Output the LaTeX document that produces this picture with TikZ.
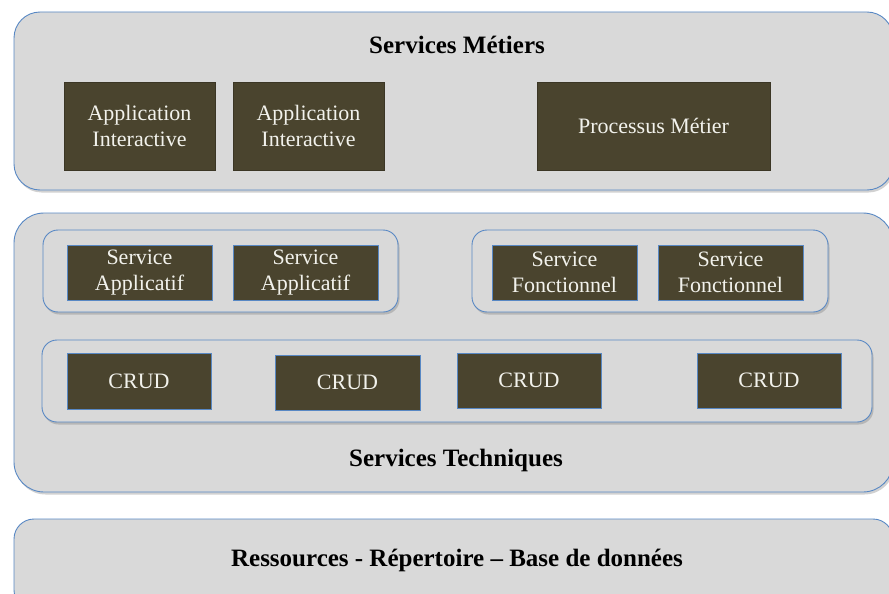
\documentclass[tikz,border=0pt]{standalone}
\usepackage{fontspec}
\setmainfont{Liberation Serif}
\usepackage{xcolor}
\usepackage{tikz}
\usetikzlibrary{shadows}
\definecolor{layerfill}{RGB}{217,217,217}
\definecolor{layerline}{RGB}{88,136,196}
\definecolor{boxfill}{RGB}{74,68,46}
\definecolor{boxtext}{RGB}{242,242,236}

\begin{document}
\begin{tikzpicture}[x=1pt, y=-1pt,
                    layer/.style={rectangle, draw=layerline, line width=0.9pt, fill=layerfill,
                    drop shadow={shadow xshift=1.5pt, shadow yshift=-2.5pt, opacity=.3, fill=black!60}},
                    group/.style={layer, rounded corners=15pt, minimum height=82pt},
                    block/.style={rectangle, fill=boxfill, text=boxtext, align=center,
                    font=\fontsize{22}{26}\selectfont, inner sep=0pt},
                    appbox/.style={block, draw=boxfill!80!black, minimum width=151pt, minimum height=88pt},
                    svcbox/.style={block, draw=layerline, line width=0.8pt, minimum width=145pt, minimum height=55pt},
                    title/.style={font=\fontsize{25}{30}\selectfont\bfseries}]
    \useasboundingbox (0,0) rectangle (889,594);
    \clip (0,0) rectangle (889,594);

    % couches
    \node [layer, rounded corners=26pt, minimum width=879pt, minimum height=178pt] (metier) at (453.5,101) {};
    \node [layer, rounded corners=30pt, minimum width=879pt, minimum height=279pt] (technique) at (453.5,352.5) {};
    \node [layer, rounded corners=20pt, minimum width=879pt, minimum height=91pt] (ressources) at (453.5,564.5) {};

    \node [title] (metierTitle) at (457,45) {Services Métiers};
    \node [title] (techniqueTitle) at (456,460) {Services Techniques};
    \node [title] (ressourcesTitle) at (457,560) {Ressources - Répertoire – Base de données};

    % services metiers
    \node [appbox] (app1) at (139.5,126) {Application\\Interactive};
    \node [appbox] (app2) at (308.5,126) {Application\\Interactive};
    \node [appbox, minimum width=233pt] (processus) at (653.5,126) {Processus Métier};

    % services techniques
    \node [group, minimum width=355pt] (applicatifs) at (220.5,271) {};
    \node [group, minimum width=356pt] (fonctionnels) at (650,271) {};
    \node [group, minimum width=830pt] (cruds) at (457,381) {};

    \node [svcbox] (sa1) at (139.5,272.5) {Service\\Applicatif};
    \node [svcbox] (sa2) at (305.5,272.5) {Service\\Applicatif};
    \node [svcbox] (sf1) at (564.5,272.5) {Service\\Fonctionnel};
    \node [svcbox] (sf2) at (730.5,272.5) {Service\\Fonctionnel};

    \node [svcbox, minimum width=144pt, minimum height=56pt] (crud1) at (139,381) {CRUD};
    \node [svcbox] (crud2) at (347.5,382.5) {CRUD};
    \node [svcbox, minimum width=144pt] (crud3) at (529,380.5) {CRUD};
    \node [svcbox, minimum width=144pt] (crud4) at (769,380.5) {CRUD};
\end{tikzpicture}
\end{document}
